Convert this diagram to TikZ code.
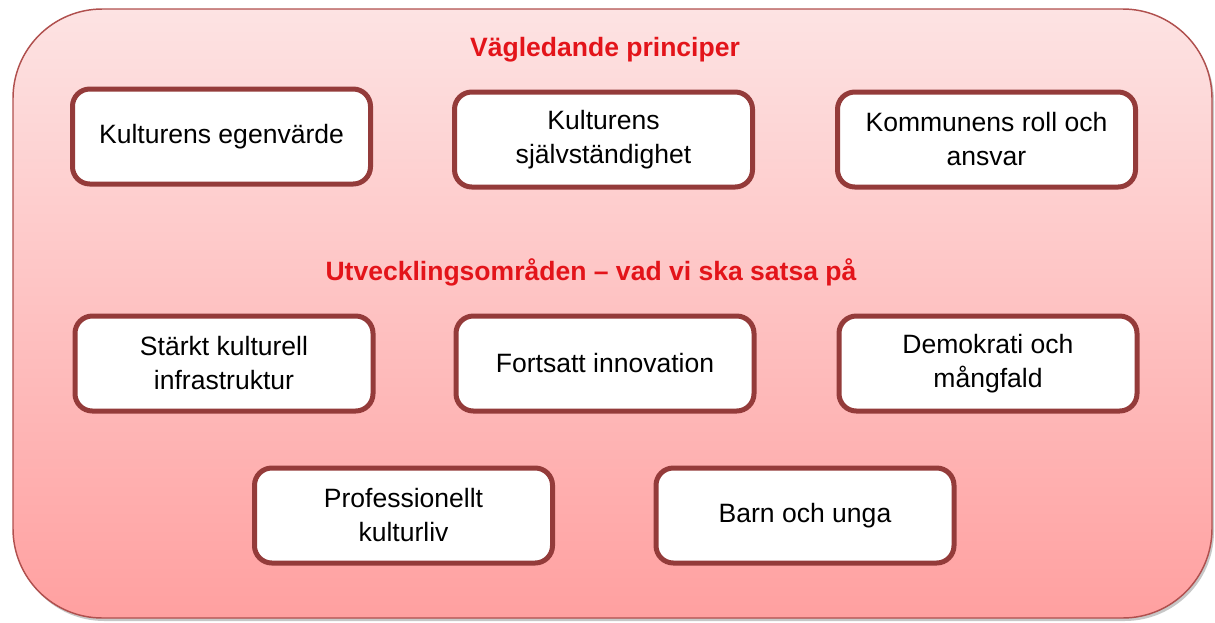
\documentclass[tikz,border=0pt]{standalone}
\usepackage{fontspec}
\setmainfont{Liberation Sans}
\usetikzlibrary{positioning}

\definecolor{boxborder}{HTML}{943B3A}
\definecolor{titlered}{HTML}{E3141A}
\definecolor{paneltop}{HTML}{FDE3E3}
\definecolor{panelbottom}{HTML}{FFA0A0}
\definecolor{panelborder}{HTML}{B0504E}

\begin{document}
\begin{tikzpicture}[x=0.75pt, y=-0.75pt]
    % Styles
    \tikzset{
        areabox/.style={rectangle, draw=boxborder, fill=white, line width=3.75pt, rounded corners=13pt, minimum width=223.5pt, minimum height=71.25pt, align=center, font=\fontsize{19.9}{25.5}\selectfont},
        heading/.style={font=\bfseries\fontsize{19.9}{25}\selectfont, text=titlered, align=center},
        panel/.style={draw=panelborder, line width=1.1pt, rounded corners=67pt, top color=paneltop, bottom color=panelbottom}
    }

    \useasboundingbox (0,0) rectangle (1215,622);

    % --- Panel ---
    \fill[black!22, rounded corners=67pt] (15,12) rectangle (1214,621);
    \draw[panel] (13,9) rectangle (1212,618);

    % --- Headings ---
    \node[heading] (principles) at (605,50) {Vägledande principer};
    \node[heading] (areas) at (591,272) {Utvecklingsområden – vad vi ska satsa på};

    % --- Guiding principles ---
    \node[areabox] (egenvarde) at (221.5,136.5) {Kulturens egenvärde};
    \node[areabox] (sjalvstandighet) at (603.5,139.5) {Kulturens\\självständighet};
    \node[areabox, yshift=-1.5pt] (kommunen) at (986.5,137.5) {Kommunens roll och\\ansvar};

    % --- Development areas ---
    \node[areabox] (infrastruktur) at (224,363.5) {Stärkt kulturell\\infrastruktur};
    \node[areabox] (innovation) at (605,363.5) {Fortsatt innovation};
    \node[areabox] (demokrati) at (988,363.5) {Demokrati och\\mångfald};

    \node[areabox] (kulturliv) at (403.5,515.5) {Professionellt\\kulturliv};
    \node[areabox] (unga) at (805,515.5) {Barn och unga};

\end{tikzpicture}
\end{document}
